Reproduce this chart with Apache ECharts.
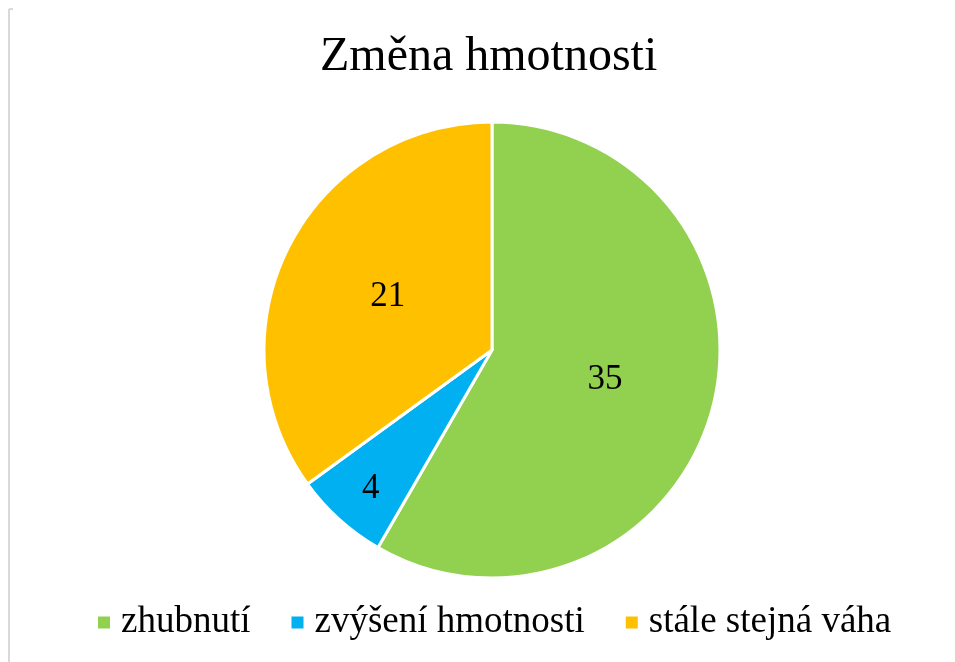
<!DOCTYPE html>
<html>
<head>
    <meta charset="utf-8">
    <title>Změna hmotnosti</title>
    <script src="https://cdn.jsdelivr.net/npm/echarts@6/dist/echarts.min.js"></script>
    <style>
        html, body { margin: 0; padding: 0; background: #fff; }
        #chart1 { width: 955px; height: 662px; }
    </style>
</head>
<body>
<div id="chart1"></div>
<script type="text/javascript">
    // data
    var categories = ['zhubnutí', 'zvýšení hmotnosti', 'stále stejná váha'];
    var values = [35, 4, 21];
    var colors = ['#92D050', '#00B0F0', '#FFC000'];

    var font = '"Liberation Serif", "Times New Roman", serif';

    var pieData = categories.map(function (name, i) {
        var item = { name: name, value: values[i], itemStyle: { color: colors[i] } };
        // small slice: label sits further out, like in the original
        if (i === 1) item.label = { offset: [-43, 52] };
        return item;
    });

    var chart = echarts.init(document.getElementById('chart1'));
    chart.setOption({
        animation: false,
        backgroundColor: '#fff',
        title: {
            text: 'Změna hmotnosti',
            left: 315,
            top: 28,
            textStyle: { fontFamily: font, fontSize: 48, fontWeight: 'normal', color: '#000' }
        },
        legend: {
            data: categories,
            bottom: 16,
            left: 91,
            icon: 'rect',
            itemWidth: 14,
            itemHeight: 14,
            itemGap: 39,
            textStyle: { fontFamily: font, fontSize: 37, color: '#000', padding: [0, 0, 0, 5] }
        },
        // frame edge of the original chart
        graphic: [
            { type: 'line', shape: { x1: 9, y1: 9, x2: 9, y2: 662 }, style: { stroke: '#d9d9d9', lineWidth: 2 } },
            { type: 'line', shape: { x1: 9, y1: 9, x2: 13, y2: 9 }, style: { stroke: '#d9d9d9', lineWidth: 2 } }
        ],
        series: [{
            type: 'pie',
            center: [492, 350],
            radius: [0, 228],
            startAngle: 90,
            clockwise: true,
            data: pieData,
            itemStyle: { borderColor: '#fff', borderWidth: 3 },
            label: {
                show: true,
                position: 'inner',
                formatter: '{c}',
                fontFamily: font,
                fontSize: 35,
                color: '#000'
            },
            labelLine: { show: false }
        }]
    });
</script>
</body>
</html>
